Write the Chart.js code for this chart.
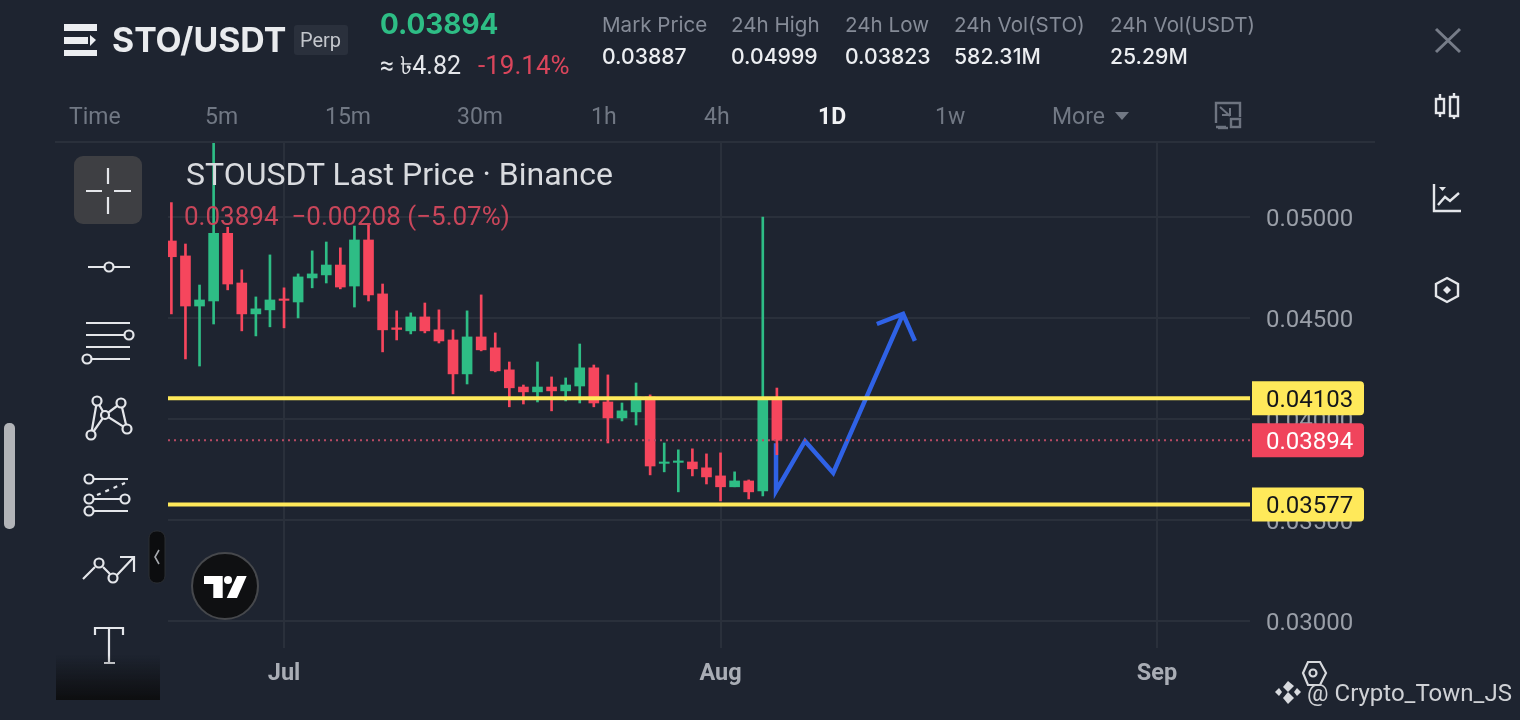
<!DOCTYPE html>
<html>
<head>
<meta charset="utf-8">
<title>STOUSDT</title>
<script src="https://cdn.jsdelivr.net/npm/chart.js@4/dist/chart.umd.min.js"></script>
<style>
  html, body { margin: 0; padding: 0; background: #1e2430; width: 1520px; height: 720px; overflow: hidden; }
  canvas { position: absolute; left: 0; top: 0; }
  svg { position: absolute; left: 0; top: 0; }
  .t { position: absolute; white-space: nowrap; line-height: 1; font-family: Roboto, sans-serif; transform: translateY(-50%); }
  .head { font-family: Inter, Roboto, sans-serif; }
  .lab { font-size: 20.6px; color: #858b97; top: 25px; }
  .val { font-size: 21.2px; color: #eceef1; top: 57px; font-weight: 500; }
  .tab { font-size: 23px; color: #717884; top: 116px; }
</style>
</head>
<body>
<canvas id="chart" width="1520" height="720"></canvas>

<svg width="1520" height="720" fill="none" stroke="#e4e6ea" stroke-width="2.2">
  <defs>
    <linearGradient id="fade" x1="0" y1="0" x2="0" y2="1">
      <stop offset="0" stop-color="#0d0e10" stop-opacity="0"/>
      <stop offset="1" stop-color="#0d0e10"/>
    </linearGradient>
  </defs>
  <rect x="55" y="141" width="1320" height="2" fill="#2a303b" stroke="none"/>
  <!-- menu -->
  <g fill="#eceef1" stroke="none">
    <rect x="64" y="24" width="33" height="7"/>
    <rect x="64" y="37" width="24" height="7"/>
    <polygon points="90,35 96,40 90,46"/>
    <rect x="64" y="50" width="33" height="6"/>
  </g>
  <!-- fullscreen exit -->
  <g stroke="#6e7480" stroke-width="2.4">
    <path d="M1216 123 V103 H1240 V117 M1216 127 H1226"/>
    <path d="M1218 128 H1228"/>
    <rect x="1231" y="119" width="9" height="8"/>
    <path d="M1220 107 L1230 116 M1222 115 H1230 V108" stroke-width="2"/>
  </g>
  <!-- right icons -->
  <path d="M1436 29 L1460 52 M1460 29 L1436 52" stroke="#767c88" stroke-width="3"/>
  <g stroke="#e4e6ea" stroke-width="2.4">
    <rect x="1436" y="99" width="8" height="14"/><path d="M1440 94 V99 M1440 113 V117"/>
    <rect x="1450" y="97" width="8" height="19"/><path d="M1454 93 V97 M1454 116 V119"/>
    <path d="M1434 184 V211 H1461"/>
    <path d="M1438 205 L1445 197 L1450 201 L1459 193"/>
    <polygon points="1439,187 1446,187 1442.5,191" fill="#e4e6ea" stroke="none"/>
    <polygon points="1447,278 1458,284 1458,296 1447,302 1436,296 1436,284"/>
    <polygon points="1447,286 1451,290 1447,294 1443,290" fill="#e4e6ea" stroke="none"/>
  </g>
  <!-- scrollbar and tool column -->
  <rect x="4" y="423" width="11" height="106" rx="5" fill="#b2b4b8" stroke="none"/>
  <rect x="74" y="156" width="68" height="68" rx="9" fill="#3e3f43" stroke="none"/>
  <path d="M86 191 H102 M114 191 H131 M108 168 V184 M108 197 V214" stroke="#e4e6ea"/>
  <path d="M88 267 H104 M114 267 H130"/><circle cx="109" cy="267" r="4.5"/>
  <path d="M86 323 H130 M86 335 H124 M86 347 H130 M92 359 H130"/>
  <circle cx="129" cy="335" r="4.5"/><circle cx="87" cy="359" r="4.5"/>
  <path d="M97 401 L91 435 L105 415 L121 403 L127 429 L105 415 L97 401"/>
  <g fill="#1e2430"><circle cx="97" cy="401" r="4.5"/><circle cx="121" cy="403" r="4.5"/><circle cx="91" cy="435" r="4.5"/><circle cx="127" cy="429" r="4.5"/><circle cx="105" cy="415" r="4"/></g>
  <path d="M94 479 H128 M94 499 H120 M94 511 H128"/>
  <path d="M97 495 L125 483" stroke-dasharray="4 5"/>
  <circle cx="89" cy="479" r="4.5"/><circle cx="89" cy="499" r="4.5"/><circle cx="125" cy="499" r="4.5"/><circle cx="89" cy="511" r="4.5"/>
  <path d="M83 579 L95 567 M103 567 L110 574 M117 575 L134 557 M120 557 H134 V572"/>
  <circle cx="99" cy="563" r="4.5"/><circle cx="113" cy="578" r="4.5"/>
  <path d="M95 635 V628 H123 V635 M109 628 V663 M104 663 H115"/>
  <rect x="56" y="655" width="104" height="45" fill="url(#fade)" stroke="none"/>
  <!-- collapse pill -->
  <rect x="149" y="531" width="16" height="52" rx="7" fill="#0c0d0f" stroke="#2b2e33" stroke-width="1"/>
  <path d="M159 550 L155 557 L159 564" stroke="#a6a9ae" stroke-width="1.6"/>
  <!-- tradingview badge -->
  <circle cx="225" cy="586" r="33" fill="#0f1012" stroke="#46484c" stroke-width="2"/>
  <g fill="#fff" stroke="none">
    <polygon points="204,576 222.7,576 222.7,598 213.3,598 213.3,584 204,584"/>
    <circle cx="228" cy="580" r="4"/>
    <polygon points="237,576 246.7,576 237,598 226.7,598"/>
  </g>
  <!-- watermark marks -->
  <polygon points="1303,673 1308,662 1320,662 1326,673 1320,685 1308,685" stroke="#d7d9dd"/>
  <circle cx="1313" cy="673" r="3.5" stroke="#d7d9dd"/>
  <g fill="#d7d9dd" stroke="none">
    <polygon points="1288,681 1294,686 1288,692 1283,687"/>
    <polygon points="1288,692 1294,698 1288,704 1283,698"/>
    <polygon points="1279,688 1282,692 1279,696 1275,692"/>
    <polygon points="1297,688 1301,692 1297,696 1294,692"/>
  </g>
  <polygon points="1115,112 1129,112 1122,120" fill="#717884" stroke="none"/>
  <rect x="294" y="25" width="54" height="30" rx="3" fill="#2a303c" stroke="none"/>
</svg>

<div class="t head" style="left:112px;top:40px;font-size:33.8px;font-weight:700;color:#e9ebee">STO/USDT</div>
<div class="t" style="left:300px;top:40px;font-size:20px;color:#c3c6cc">Perp</div>
<div class="t head" style="left:380px;top:25px;font-size:27.9px;font-weight:700;color:#2ebd85">0.03894</div>
<div class="t" style="left:380px;top:65px;font-size:25px;color:#e4e6ea;font-family:Roboto,'Noto Sans',sans-serif">≈ ৳4.82</div>
<div class="t" style="left:478px;top:65px;font-size:26px;color:#d9455b">-19.14%</div>

<div class="t head lab" style="left:602px">Mark Price</div><div class="t head val" style="left:602px">0.03887</div>
<div class="t head lab" style="left:731px">24h High</div><div class="t head val" style="left:731px">0.04999</div>
<div class="t head lab" style="left:845px">24h Low</div><div class="t head val" style="left:845px">0.03823</div>
<div class="t head lab" style="left:954px">24h Vol(STO)</div><div class="t head val" style="left:954px">582.31M</div>
<div class="t head lab" style="left:1110px">24h Vol(USDT)</div><div class="t head val" style="left:1110px">25.29M</div>

<div class="t tab" style="left:69px">Time</div>
<div class="t tab" style="left:205px">5m</div>
<div class="t tab" style="left:325px">15m</div>
<div class="t tab" style="left:457px">30m</div>
<div class="t tab" style="left:591px">1h</div>
<div class="t tab" style="left:704px">4h</div>
<div class="t tab" style="left:818px;color:#f0f1f3;font-weight:700">1D</div>
<div class="t tab" style="left:935px">1w</div>
<div class="t tab" style="left:1052px">More</div>

<div class="t" style="left:186px;top:174px;font-size:32px;color:#d9dbdf">STOUSDT Last Price · Binance</div>
<div class="t" style="left:184px;top:216px;font-size:26px;color:#c8465a">0.03894&nbsp; −0.00208 (−5.07%)</div>
<div class="t" style="left:1307px;top:693px;font-size:24px;color:#cfd1d5">@ Crypto_Town_JS</div>

<script>
// day 0 = 1 Jul, one candle per day
const days = [-8,-7,-6,-5,-4,-3,-2,-1,0,1,2,3,4,5,6,7,8,9,10,11,12,13,14,15,16,17,18,19,20,21,22,23,24,25,26,27,28,29,30,31,32,33,34,35];
const opens = [0.04881,0.04807,0.04559,0.04584,0.04919,0.04673,0.04520,0.04540,0.04594,0.04579,0.04698,0.04713,0.04762,0.04658,0.04886,0.04619,0.04451,0.04436,0.04505,0.04441,0.04391,0.04223,0.04406,0.04352,0.04243,0.04158,0.04134,0.04158,0.04139,0.04163,0.04253,0.04084,0.04005,0.04035,0.04109,0.03780,0.03785,0.03787,0.03758,0.03718,0.03664,0.03693,0.03644,0.04104];
const closes = [0.04803,0.04559,0.04589,0.04919,0.04668,0.04520,0.04545,0.04589,0.04587,0.04703,0.04718,0.04762,0.04653,0.04886,0.04614,0.04441,0.04443,0.04505,0.04436,0.04386,0.04223,0.04406,0.04342,0.04238,0.04154,0.04134,0.04158,0.04139,0.04168,0.04253,0.04079,0.04005,0.04040,0.04109,0.03767,0.03787,0.03792,0.03753,0.03713,0.03664,0.03693,0.03639,0.04104,0.03894];
const highs = [0.05071,0.04866,0.04663,0.05371,0.04949,0.04738,0.04604,0.04812,0.04649,0.04718,0.04832,0.04876,0.04847,0.04955,0.04965,0.04668,0.04535,0.04525,0.04574,0.04540,0.04441,0.04535,0.04614,0.04426,0.04282,0.04168,0.04282,0.04208,0.04203,0.04371,0.04267,0.04218,0.04079,0.04178,0.04119,0.03881,0.03847,0.03852,0.03827,0.03832,0.03738,0.03698,0.04999,0.04153];
const lows = [0.04520,0.04297,0.04262,0.04470,0.04639,0.04436,0.04411,0.04456,0.04451,0.04500,0.04649,0.04673,0.04644,0.04554,0.04584,0.04332,0.04391,0.04421,0.04426,0.04376,0.04124,0.04173,0.04337,0.04233,0.04060,0.04074,0.04084,0.04040,0.04089,0.04079,0.04060,0.03881,0.03990,0.03970,0.03723,0.03738,0.03639,0.03718,0.03678,0.03594,0.03664,0.03604,0.03619,0.03823];

const supportLevels = [0.04103, 0.03577];
const lastPrice = 0.03894;

// hand drawn projection on the chart
const arrowDays = [34.94, 34.94, 37.0, 39.0, 43.96];
const arrowPrices = [0.03880, 0.03644, 0.03891, 0.03733, 0.04520];
const headDays = [42.1, 43.96, 44.8];
const headPrices = [0.04470, 0.04520, 0.04386];

const yTicks = [0.03, 0.035, 0.04, 0.045, 0.05];
const xTicks = [0, 31, 62];
const xTickLabels = ['Jul', 'Aug', 'Sep'];

const xMin = -8.24, xMax = 68.6;
const green = '#2ebd85', red = '#f6465d', yellow = '#ffe95a';

const pairs = (xs, ys) => xs.map((x, i) => ({ x, y: ys[i] }));
const hline = v => [{ x: xMin, y: v }, { x: xMax, y: v }];
const candleColors = opens.map((o, i) => closes[i] >= o ? green : red);

const priceTags = {
    id: 'priceTags',
    afterDraw(chart) {
        const { ctx, scales: { y } } = chart;
        const tags = [
            [supportLevels[0], yellow, '#14161a'],
            [lastPrice, '#f0445c', '#ffffff'],
            [supportLevels[1], yellow, '#14161a']
        ];
        ctx.save();
        ctx.font = '24px Roboto';
        ctx.textAlign = 'left';
        ctx.textBaseline = 'middle';
        tags.forEach(([v, bg, fg]) => {
            const py = y.getPixelForValue(v);
            ctx.fillStyle = bg;
            ctx.beginPath();
            ctx.roundRect(1252, py - 17, 112, 34, [0, 4, 4, 0]);
            ctx.fill();
            ctx.fillStyle = fg;
            ctx.fillText(v.toFixed(5), 1266, py + 3);
        });
        ctx.restore();
    }
};

new Chart(document.getElementById('chart').getContext('2d'), {
    type: 'bar',
    plugins: [priceTags],
    data: {
        datasets: [
            { type: 'line', data: hline(supportLevels[0]), borderColor: yellow, borderWidth: 4, pointRadius: 0, order: 0 },
            { type: 'line', data: hline(supportLevels[1]), borderColor: yellow, borderWidth: 4, pointRadius: 0, order: 0 },
            { type: 'line', data: hline(lastPrice), borderColor: '#b84a63', borderWidth: 2, borderDash: [2, 4], pointRadius: 0, order: 1 },
            { data: pairs(days, opens.map((o, i) => [o, closes[i]])), backgroundColor: candleColors, barThickness: 10, grouped: false, order: 2 },
            { data: pairs(days, lows.map((l, i) => [l, highs[i]])), backgroundColor: candleColors, barThickness: 2, grouped: false, order: 3 },
            { type: 'line', data: pairs(arrowDays, arrowPrices), borderColor: '#2f62e6', borderWidth: 4.5, pointRadius: 0, tension: 0, order: 4 },
            { type: 'line', data: pairs(headDays, headPrices), borderColor: '#2f62e6', borderWidth: 4.5, pointRadius: 0, tension: 0, order: 4 }
        ]
    },
    options: {
        responsive: false,
        animation: false,
        events: [],
        layout: { padding: { left: 168, top: 142, right: 0, bottom: 0 } },
        plugins: { legend: { display: false }, tooltip: { enabled: false } },
        scales: {
            x: {
                type: 'linear',
                offset: false,
                min: xMin,
                max: xMax,
                afterFit: s => { s.height = 72; },
                afterBuildTicks: s => { s.ticks = xTicks.map(value => ({ value })); },
                grid: { color: '#2a303b', lineWidth: 2, drawTicks: false, offset: false },
                border: { display: false },
                ticks: {
                    autoSkip: false,
                    maxRotation: 0,
                    padding: 12,
                    color: '#a9adb5',
                    font: { family: 'Roboto', size: 23.5, weight: '700' },
                    callback: v => xTickLabels[xTicks.indexOf(v)]
                }
            },
            y: {
                position: 'right',
                min: 0.02866,
                max: 0.05371,
                afterFit: s => { s.width = 270; },
                afterBuildTicks: s => { s.ticks = yTicks.map(value => ({ value })); },
                grid: { color: '#2a303b', lineWidth: 2, drawTicks: false },
                border: { display: false },
                ticks: {
                    autoSkip: false,
                    padding: 16,
                    labelOffset: 3,
                    color: '#9a9fa8',
                    font: { family: 'Roboto', size: 24 },
                    callback: v => v.toFixed(5)
                }
            }
        }
    }
});
</script>
</body>
</html>
